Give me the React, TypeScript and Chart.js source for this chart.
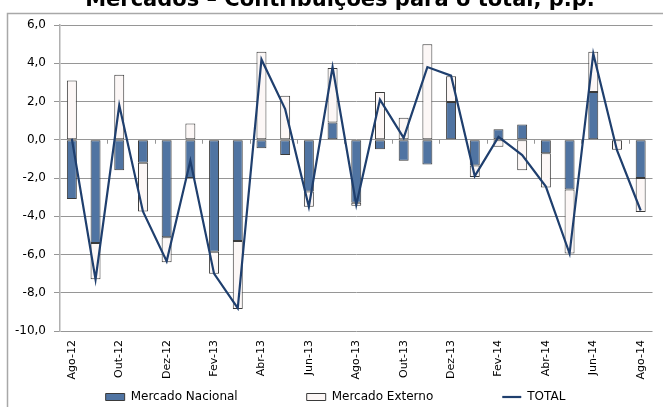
import React, { useEffect, useRef } from 'react';
import { Chart, registerables } from 'chart.js';

Chart.register(...registerables);

const TITLE = 'Mercados – Contribuições para o total, p.p.';

const categories = [
  'Ago-12', 'Set-12', 'Out-12', 'Nov-12', 'Dez-12', 'Jan-13', 'Fev-13', 'Mar-13',
  'Abr-13', 'Mai-13', 'Jun-13', 'Jul-13', 'Ago-13', 'Set-13', 'Out-13', 'Nov-13',
  'Dez-13', 'Jan-14', 'Fev-14', 'Mar-14', 'Abr-14', 'Mai-14', 'Jun-14', 'Jul-14', 'Ago-14',
];

const mercadoNacional = [
  -3.1, -5.4, -1.6, -1.2, -5.1, -2.0, -5.85, -5.3,
  -0.45, -0.8, -2.7, 0.9, -3.3, -0.5, -1.1, -1.3,
  1.97, -1.35, 0.55, 0.8, -0.7, -2.6, 2.5, 0.0, -2.0,
];

const mercadoExterno = [
  3.1, -1.9, 3.4, -2.55, -1.3, 0.85, -1.15, -3.55,
  4.6, 2.3, -0.8, 2.85, -0.15, 2.5, 1.15, 5.0,
  1.35, -0.6, -0.37, -1.6, -1.8, -3.35, 2.1, -0.52, -1.78,
];

const totalValues = [
  0.05, -7.3, 1.8, -3.75, -6.35, -1.1, -7.0, -8.8,
  4.2, 1.6, -3.5, 3.8, -3.4, 2.1, 0.1, 3.8,
  3.35, -1.9, 0.15, -0.8, -2.45, -5.95, 4.5, -0.55, -3.7,
];

const seriesNames = ['Mercado Nacional', 'Mercado Externo', 'TOTAL'];

const Y_MIN = -10;
const Y_MAX = 6;
const Y_STEP = 2;

const FONT = '"DejaVu Sans", Verdana, sans-serif';
const NAC_COLOR = '#5074A2';
const EXT_COLOR = '#FCF7F6';
const BAR_BORDER = '#3A3A3A';
const LINE_COLOR = '#1F3F6E';
const GRID_COLOR = '#969696';

export default function App() {
  const ref = useRef<HTMLCanvasElement | null>(null);

  useEffect(() => {
    const canvas = ref.current;
    if (!canvas) return;

    const framePlugin = {
      id: 'frameAndTitle',
      beforeDraw(chart: any) {
        const ctx = chart.ctx;
        ctx.save();
        ctx.strokeStyle = '#A8A8A8';
        ctx.lineWidth = 1.5;
        ctx.strokeRect(7.5, 13.5, 700, 500);
        ctx.restore();
      },
      afterDraw(chart: any) {
        const ctx = chart.ctx;
        ctx.save();
        ctx.font = `bold 21px ${FONT}`;
        ctx.fillStyle = '#000';
        ctx.textAlign = 'center';
        ctx.textBaseline = 'alphabetic';
        ctx.fillText(TITLE, 340, 5.5);
        ctx.restore();
      },
    };

    const zeroTicksPlugin = {
      id: 'zeroTicks',
      beforeDatasetsDraw(chart: any) {
        const xs = chart.scales.x;
        const ys = chart.scales.y;
        const ctx = chart.ctx;
        const half = (xs.getPixelForValue(1) - xs.getPixelForValue(0)) / 2;
        const y0 = ys.getPixelForValue(0);
        ctx.save();
        ctx.strokeStyle = GRID_COLOR;
        ctx.lineWidth = 1;
        for (let k = 2; k < categories.length; k += 2) {
          const x = Math.round(xs.getPixelForValue(k) - half) + 0.5;
          ctx.beginPath();
          ctx.moveTo(x, y0);
          ctx.lineTo(x, y0 + 4);
          ctx.stroke();
        }
        ctx.restore();
      },
    };

    const legendPlacePlugin = {
      id: 'legendPlace',
      beforeLayout(chart: any) {
        const lg = chart.legend;
        if (lg && !lg.__patched) {
          const orig = lg.fit;
          lg.fit = function () {
            orig.call(this);
            this.height = 26;
          };
          lg.__patched = true;
        }
      },
      afterLayout(chart: any) {
        const lg = chart.legend;
        if (!lg) return;
        lg.top = 397 - 6 - 69;
        lg.bottom = 407;
        lg.height = lg.bottom - lg.top;
        lg.left = 14;
        lg.right = 657;
        lg.width = lg.right - lg.left;
      },
    };

    const chart = new Chart(canvas, {
      type: 'bar',
      data: {
        labels: categories,
        datasets: [
          {
            type: 'bar',
            label: seriesNames[0],
            data: mercadoNacional,
            backgroundColor: NAC_COLOR,
            borderColor: BAR_BORDER,
            borderWidth: 1,
            borderSkipped: false,
            barPercentage: 0.42,
            categoryPercentage: 1,
            stack: 'mercados',
            order: 1,
          },
          {
            type: 'bar',
            label: seriesNames[1],
            data: mercadoExterno,
            backgroundColor: EXT_COLOR,
            borderColor: BAR_BORDER,
            borderWidth: 1,
            borderSkipped: false,
            barPercentage: 0.42,
            categoryPercentage: 1,
            stack: 'mercados',
            order: 1,
          },
          {
            type: 'line',
            label: seriesNames[2],
            data: totalValues,
            borderColor: LINE_COLOR,
            backgroundColor: LINE_COLOR,
            borderWidth: 2.2,
            pointRadius: 0,
            tension: 0,
            fill: false,
            stack: 'total',
            order: 0,
          },
        ] as any,
      },
      options: {
        responsive: false,
        animation: false,
        events: [],
        layout: { padding: { top: 25, right: 6, bottom: 0, left: 0 } },
        scales: {
          x: {
            stacked: true,
            grid: { display: false, drawTicks: false },
            border: { display: false },
            ticks: {
              autoSkip: false,
              maxRotation: 90,
              minRotation: 90,
              padding: 9,
              color: '#000',
              font: { family: FONT, size: 11 },
              callback: (_v: any, idx: number) => (idx % 2 === 0 ? categories[idx] : ''),
            },
            afterFit: (scale: any) => {
              scale.height = 50;
            },
          },
          y: {
            stacked: true,
            min: Y_MIN,
            max: Y_MAX,
            grid: { color: GRID_COLOR, lineWidth: 1, tickLength: 6, drawTicks: true },
            border: { display: true, color: '#B0B0B0', width: 1.5 },
            ticks: {
              stepSize: Y_STEP,
              padding: 8,
              color: '#000',
              font: { family: FONT, size: 12 },
              callback: (v: any) => Number(v).toFixed(1).replace('.', ','),
            },
            afterFit: (scale: any) => {
              scale.width = 60;
            },
          },
        },
        plugins: {
          title: { display: false },
          tooltip: { enabled: false },
          legend: {
            display: true,
            position: 'bottom',
            labels: {
              padding: 69,
              usePointStyle: true,
              pointStyleWidth: 19,
              boxHeight: 7,
              color: '#000',
              font: { family: FONT, size: 12 },
              sort: (a: any, b: any) => a.datasetIndex - b.datasetIndex,
              generateLabels: (c: any) => {
                const items = (Chart.defaults as any).plugins.legend.labels.generateLabels(c);
                return items
                  .map((it: any) => {
                    const ds: any = c.data.datasets[it.datasetIndex];
                    if (ds.type === 'line') {
                      return { ...it, pointStyle: 'line', lineWidth: 2.2, strokeStyle: LINE_COLOR, fillStyle: LINE_COLOR };
                    }
                    return { ...it, pointStyle: 'rect', lineWidth: 1, strokeStyle: BAR_BORDER, fillStyle: ds.backgroundColor };
                  })
                  .sort((a: any, b: any) => a.datasetIndex - b.datasetIndex);
              },
            },
          },
        },
      } as any,
      plugins: [framePlugin, zeroTicksPlugin, legendPlacePlugin],
    });

    return () => {
      chart.destroy();
    };
  }, []);

  return (
    <canvas
      ref={ref}
      width={663}
      height={407}
      style={{ position: 'fixed', left: 0, top: 0, width: 663, height: 407, display: 'block' }}
    />
  );
}
